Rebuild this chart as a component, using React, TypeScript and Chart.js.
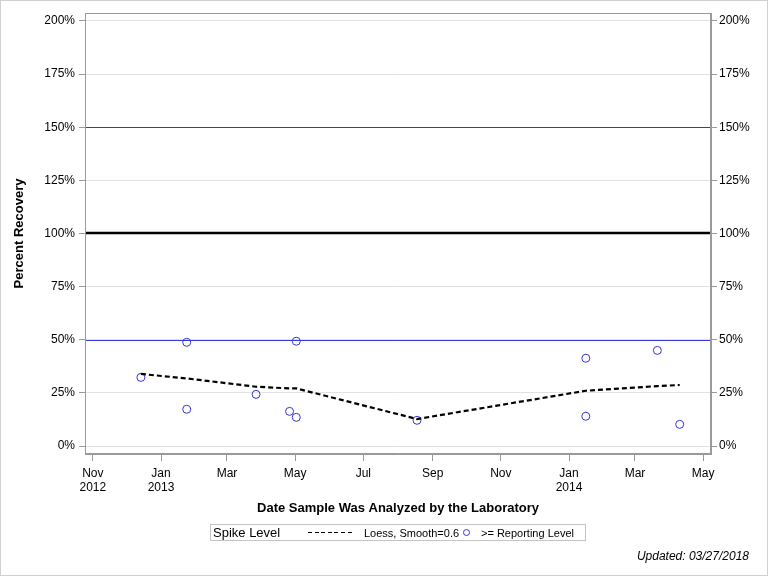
import React, { useEffect, useRef } from "react";
import { Chart, registerables } from "chart.js";

Chart.register(...registerables);

const sampleDates = [
  "2012-12-14", "2013-01-24", "2013-01-24", "2013-03-27", "2013-04-26", "2013-05-02",
  "2013-05-02", "2013-08-18", "2014-01-16", "2014-01-16", "2014-03-21", "2014-04-10",
];
const recoveryValues = [32.3, 48.8, 17.3, 24.3, 16.3, 13.5, 49.3, 12.1, 41.3, 14.0, 45.0, 10.2];

const loessDates = [
  "2012-12-14", "2013-01-24", "2013-03-27", "2013-04-26", "2013-05-02",
  "2013-08-18", "2014-01-16", "2014-03-21", "2014-04-10",
];
const loessValues = [33.9, 31.8, 27.9, 27.1, 27.1, 12.7, 26.0, 28.2, 28.7];

const xTickDates = [
  "2012-11-01", "2013-01-01", "2013-03-01", "2013-05-01", "2013-07-01",
  "2013-09-01", "2013-11-01", "2014-01-01", "2014-03-01", "2014-05-01",
];
const xTickLabels: (string | string[])[] = [
  ["Nov", "2012"], ["Jan", "2013"], "Mar", "May", "Jul", "Sep", "Nov", ["Jan", "2014"], "Mar", "May",
];
const xRange = ["2012-10-25", "2014-05-08"];

const yTicks = [0, 25, 50, 75, 100, 125, 150, 175, 200];
const yRange = [-3.76, 203.76];

const refLines = [
  { value: 150, color: "#3a3a9c", width: 1 },
  { value: 100, color: "#000000", width: 2.5 },
  { value: 50, color: "#3a3ad6", width: 1 },
];

const toDay = (s: string) => {
  const [y, m, d] = s.split("-").map(Number);
  return Date.UTC(y, m - 1, d) / 86400000;
};

const FONT = "'Liberation Sans', Arial, sans-serif";

const refLinePlugin = {
  id: "refLines",
  beforeDatasetsDraw(chart: any) {
    const { ctx, chartArea } = chart;
    const y = chart.scales.y;
    ctx.save();
    for (const r of refLines) {
      const py = Math.round(y.getPixelForValue(r.value)) + (r.width % 2 === 1 ? 0.5 : 0);
      ctx.beginPath();
      ctx.strokeStyle = r.color;
      ctx.lineWidth = r.width;
      ctx.moveTo(chartArea.left, py);
      ctx.lineTo(chartArea.right, py);
      ctx.stroke();
    }
    ctx.restore();
  },
  afterDraw(chart: any) {
    const { ctx, chartArea } = chart;
    ctx.save();
    ctx.strokeStyle = "#9a9a9a";
    ctx.lineWidth = 1;
    ctx.strokeRect(
      Math.round(chartArea.left) + 0.5,
      Math.round(chartArea.top) + 0.5,
      Math.round(chartArea.right - chartArea.left) - 1,
      Math.round(chartArea.bottom - chartArea.top) - 1
    );
    ctx.restore();
  },
};

export default function App() {
  const canvasRef = useRef<HTMLCanvasElement>(null);

  useEffect(() => {
    document.body.style.margin = "0";
    const canvas = canvasRef.current;
    if (!canvas) return;

    const scatterData = sampleDates.map((d, i) => ({ x: toDay(d), y: recoveryValues[i] }));
    const loessData = loessDates.map((d, i) => ({ x: toDay(d), y: loessValues[i] }));
    const tickDays = xTickDates.map(toDay);

    const yCommon = {
      type: "linear" as const,
      min: yRange[0],
      max: yRange[1],
      afterBuildTicks: (scale: any) => {
        scale.ticks = yTicks.map((v) => ({ value: v }));
      },
      ticks: {
        color: "#000",
        font: { family: FONT, size: 12 },
        callback: (v: any) => `${v}%`,
      },
      border: { color: "#9a9a9a" },
    };

    const chart = new Chart(canvas, {
      type: "scatter",
      data: {
        datasets: [
          {
            type: "line",
            label: "Loess, Smooth=0.6",
            data: loessData,
            borderColor: "#000",
            borderWidth: 2.2,
            borderDash: [5, 3],
            pointRadius: 0,
            fill: false,
            tension: 0,
          } as any,
          {
            label: ">= Reporting Level",
            data: scatterData,
            pointRadius: 4,
            pointBorderWidth: 1,
            borderColor: "#3535d0",
            backgroundColor: "rgba(255,255,255,0)",
            pointStyle: "circle",
          },
        ],
      },
      options: {
        responsive: false,
        animation: false,
        devicePixelRatio: 1,
        layout: { padding: { top: 13, bottom: 60, left: 0, right: 0 } },
        plugins: {
          legend: { display: false },
          tooltip: { enabled: false },
        },
        scales: {
          x: {
            type: "linear",
            min: toDay(xRange[0]),
            max: toDay(xRange[1]),
            afterBuildTicks: (scale: any) => {
              scale.ticks = tickDays.map((v) => ({ value: v }));
            },
            afterFit: (scale: any) => {
              scale.height = 62;
            },
            ticks: {
              color: "#000",
              font: { family: FONT, size: 12 },
              padding: 5,
              maxRotation: 0,
              autoSkip: false,
              callback: (v: any) => {
                const i = tickDays.indexOf(v);
                return i >= 0 ? xTickLabels[i] : "";
              },
            },
            grid: {
              drawOnChartArea: false,
              tickColor: "#9a9a9a",
              tickLength: 7,
            },
            border: { color: "#9a9a9a" },
            title: {
              display: true,
              text: "Date Sample Was Analyzed by the Laboratory",
              color: "#000",
              font: { family: FONT, size: 13, weight: "bold" },
              padding: { top: 0, bottom: 0 },
            },
          },
          y: {
            ...yCommon,
            position: "left",
            afterFit: (scale: any) => {
              scale.width = 85;
            },
            ticks: { ...yCommon.ticks, padding: 4 },
            grid: {
              color: "#e2e2e2",
              tickColor: "#9a9a9a",
              tickLength: 6,
            },
            title: {
              display: true,
              text: "Percent Recovery",
              color: "#000",
              font: { family: FONT, size: 13, weight: "bold" },
              padding: { top: 12, bottom: 0 },
            },
          },
          y2: {
            ...yCommon,
            position: "right",
            afterFit: (scale: any) => {
              scale.width = 57;
            },
            ticks: { ...yCommon.ticks, padding: 2 },
            grid: {
              drawOnChartArea: false,
              tickColor: "#9a9a9a",
              tickLength: 6,
            },
          },
        },
      },
      plugins: [refLinePlugin],
    });

    return () => chart.destroy();
  }, []);

  const legendText: React.CSSProperties = {
    position: "absolute",
    top: 0,
    lineHeight: "16px",
    fontFamily: FONT,
    whiteSpace: "nowrap",
    color: "#000",
  };

  return (
    <div
      style={{
        position: "relative",
        width: 768,
        height: 576,
        background: "#fff",
        overflow: "hidden",
      }}
    >
      <canvas ref={canvasRef} width={768} height={576} style={{ position: "absolute", left: 0, top: 0 }} />
      <div
        style={{
          position: "absolute",
          left: 210,
          top: 524,
          width: 376,
          height: 17,
          boxSizing: "border-box",
          border: "1px solid #c4c4c4",
        }}
      >
        <span style={{ ...legendText, left: 2, fontSize: 13 }}>Spike Level</span>
        <span
          style={{
            position: "absolute",
            left: 97,
            top: 7,
            width: 46,
            height: 1,
            background: "repeating-linear-gradient(to right, #000 0px, #000 4px, transparent 4px, transparent 6.6px)",
          }}
        />
        <span style={{ ...legendText, left: 153, fontSize: 11 }}>Loess, Smooth=0.6</span>
        <span
          style={{
            position: "absolute",
            left: 252,
            top: 4,
            width: 7,
            height: 7,
            boxSizing: "border-box",
            borderRadius: "50%",
            border: "1px solid #3535d0",
          }}
        />
        <span style={{ ...legendText, left: 270, fontSize: 11 }}>&gt;= Reporting Level</span>
      </div>
      <div
        style={{
          position: "absolute",
          right: 19,
          top: 549,
          fontFamily: FONT,
          fontSize: 12,
          fontStyle: "italic",
          color: "#000",
          whiteSpace: "nowrap",
        }}
      >
        Updated: 03/27/2018
      </div>
      <div
        style={{
          position: "absolute",
          left: 0,
          top: 0,
          width: 768,
          height: 576,
          boxSizing: "border-box",
          border: "1px solid #d0d0d0",
          pointerEvents: "none",
        }}
      />
    </div>
  );
}
